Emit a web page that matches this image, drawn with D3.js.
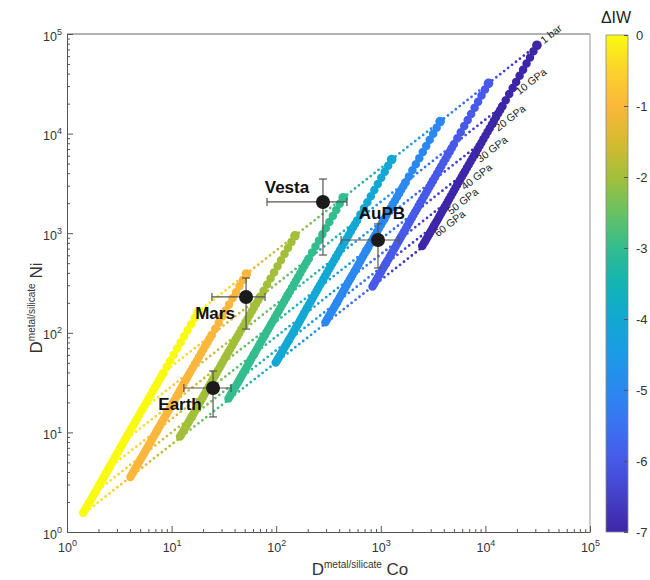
<!DOCTYPE html>
<html lang="en">
<head>
<meta charset="UTF-8" />
<title>Ni vs Co metal/silicate partitioning</title>
<script src="https://d3js.org/d3.v7.min.js"></script>
<style>
  body { margin: 0; background: #fff; }
  svg { display: block; font-family: Arial, "Liberation Sans", sans-serif; }
</style>
</head>
<body>
<div id="chart"></div>
<script>
// isobar pressures (rows of dCo / dNi go from 1 bar to 60 GPa)
const pressures = ["1 bar", "10 GPa", "20 GPa", "30 GPa", "40 GPa", "50 GPa", "60 GPa"];
const pressureGPa = [0, 10, 20, 30, 40, 50, 60];
const deltaIW = [0, -1, -2, -3, -4, -5, -6, -7];

// D(metal/silicate) Co, one array per ΔIW
const dCo = [
  [17.9, 8.32, 5.25, 3.53, 2.51, 1.85, 1.39],
  [51.9, 24.2, 15.2, 10.3, 7.29, 5.37, 4.04],
  [151, 70.2, 44.3, 29.8, 21.2, 15.6, 11.7],
  [437, 204, 129, 86.5, 61.5, 45.3, 34.0],
  [1270, 592, 373, 251, 179, 132, 98.9],
  [3690, 1720, 1080, 729, 518, 382, 287],
  [10700, 4990, 3150, 2120, 1510, 1110, 834],
  [31100, 14500, 9150, 6150, 4370, 3220, 2420]
];
// D(metal/silicate) Ni, one array per ΔIW
const dNi = [
  [162, 39.5, 17.0, 8.22, 4.37, 2.48, 1.48],
  [390, 95.3, 41.0, 19.8, 10.5, 5.98, 3.57],
  [942, 230, 99.0, 47.9, 25.4, 14.4, 8.62],
  [2270, 555, 239, 115, 61.4, 34.8, 20.8],
  [5490, 1340, 576, 279, 148, 84.1, 50.2],
  [13200, 3230, 1390, 673, 358, 203, 121],
  [31900, 7800, 3360, 1620, 863, 490, 292],
  [77100, 18800, 8100, 3920, 2080, 1180, 705]
];

// planetary bodies
const bodies = ["Earth", "Mars", "Vesta", "AuPB"];
const bodyCo = [24.9, 51.5, 280, 940];
const bodyCoLo = [13.1, 24.3, 81.7, 417];
const bodyCoHi = [37.0, 78.2, 475, 1490];
const bodyNi = [27.9, 229, 2060, 855];
const bodyNiLo = [14.3, 109, 604, 447];
const bodyNiHi = [41.3, 355, 3500, 1240];

const decades = [1, 10, 100, 1000, 10000, 100000];
const iwTicks = [0, -1, -2, -3, -4, -5, -6, -7];

// parula-like colour map
const cmapIW = [0, -0.5, -1, -1.5, -2, -2.5, -3, -3.5, -4, -4.5, -5, -5.5, -6, -6.5, -7];
const cmapHex = ["#f9fb0e", "#fcd22c", "#fbb73b", "#d6bb30", "#a3bf3a", "#68c263", "#33bc8e", "#13b4b4",
  "#12a8d3", "#1c9ae6", "#2b88f0", "#3a72f2", "#4659e8", "#4540c8", "#3e26a8"];

const width = 650, height = 580;
const svg = d3.select("#chart").append("svg").attr("width", width).attr("height", height);
const defs = svg.append("defs");

const x = d3.scaleLog().domain([1, 1e5]).range([67, 590]);
const y = d3.scaleLog().domain([1, 1e5]).range([532, 34]);
const color = d3.scaleLinear().domain(cmapIW).range(cmapHex);

const isPow = v => Math.abs(Math.log10(v) - Math.round(Math.log10(v))) < 1e-9;
const minorX = x.ticks().filter(v => !isPow(v));
const minorY = y.ticks().filter(v => !isPow(v));

// box
svg.append("line").attr("x1", 67).attr("x2", 590).attr("y1", 34).attr("y2", 34).attr("stroke", "#666");
svg.append("line").attr("x1", 590).attr("x2", 590).attr("y1", 34).attr("y2", 532).attr("stroke", "#999");

// axes
const gx = svg.append("g").attr("transform", "translate(0,532)")
  .call(d3.axisBottom(x).tickValues(decades).tickSizeInner(-6).tickSizeOuter(0).tickFormat(""));
svg.append("g").attr("transform", "translate(0,532)")
  .call(d3.axisBottom(x).tickValues(minorX).tickSizeInner(-3).tickSizeOuter(0).tickFormat(""))
  .call(g => g.select(".domain").remove());
const gy = svg.append("g").attr("transform", "translate(67,0)")
  .call(d3.axisLeft(y).tickValues(decades).tickSizeInner(-6).tickSizeOuter(0).tickFormat(""));
svg.append("g").attr("transform", "translate(67,0)")
  .call(d3.axisLeft(y).tickValues(minorY).tickSizeInner(-3).tickSizeOuter(0).tickFormat(""))
  .call(g => g.select(".domain").remove());
svg.selectAll(".domain, .tick line").attr("stroke", "#555");

gx.selectAll(".tick").each(function (d) {
  const t = d3.select(this).append("text").attr("y", 20).attr("text-anchor", "middle")
    .attr("fill", "#333").attr("font-size", 12.5);
  t.append("tspan").text("10");
  t.append("tspan").attr("dy", -6).attr("font-size", 9).text(Math.round(Math.log10(d)));
});
gy.selectAll(".tick").each(function (d) {
  const t = d3.select(this).append("text").attr("x", -5).attr("y", 6).attr("text-anchor", "end")
    .attr("fill", "#333").attr("font-size", 12.5);
  t.append("tspan").text("10");
  t.append("tspan").attr("dy", -6).attr("font-size", 9).text(Math.round(Math.log10(d)));
});

// axis titles
const xt = svg.append("text").attr("x", 360).attr("y", 575).attr("text-anchor", "middle").attr("fill", "#333");
xt.append("tspan").attr("font-size", 17).text("D");
xt.append("tspan").attr("font-size", 10).attr("dy", -7).text("metal/silicate");
xt.append("tspan").attr("font-size", 17).attr("dy", 7).text(" Co");
const yt = svg.append("text").attr("transform", "translate(42,308) rotate(-90)")
  .attr("text-anchor", "middle").attr("fill", "#333");
yt.append("tspan").attr("font-size", 17).text("D");
yt.append("tspan").attr("font-size", 10).attr("dy", -7).text("metal/silicate");
yt.append("tspan").attr("font-size", 17).attr("dy", 7).text(" Ni");

const pt = (k, i) => [x(dCo[k][i]), y(dNi[k][i])];

// dotted isobars across ΔIW
const iso = svg.append("g");
pressureGPa.forEach((p, i) => {
  for (let k = 0; k < deltaIW.length - 1; k++) {
    const a = pt(k, i), b = pt(k + 1, i);
    const id = `iso-${i}-${k}`;
    const grad = defs.append("linearGradient").attr("id", id).attr("gradientUnits", "userSpaceOnUse")
      .attr("x1", a[0]).attr("y1", a[1]).attr("x2", b[0]).attr("y2", b[1]);
    grad.append("stop").attr("offset", 0).attr("stop-color", color(deltaIW[k]));
    grad.append("stop").attr("offset", 1).attr("stop-color", color(deltaIW[k + 1]));
    iso.append("line").attr("x1", a[0]).attr("y1", a[1]).attr("x2", b[0]).attr("y2", b[1])
      .attr("stroke", `url(#${id})`).attr("stroke-width", 2.8).attr("stroke-linecap", "round")
      .attr("stroke-dasharray", "0 5");
  }
});

// thick ΔIW lines (one bead per GPa)
const lines = svg.append("g");
deltaIW.forEach((iw, k) => {
  for (let i = 0; i < pressureGPa.length - 1; i++) {
    const a = pt(k, i), b = pt(k, i + 1);
    const len = Math.hypot(b[0] - a[0], b[1] - a[1]);
    const step = len / (pressureGPa[i + 1] - pressureGPa[i]);
    lines.append("line").attr("x1", a[0]).attr("y1", a[1]).attr("x2", b[0]).attr("y2", b[1])
      .attr("stroke", color(iw)).attr("stroke-width", 8.5).attr("stroke-linecap", "round")
      .attr("stroke-dasharray", `0 ${step}`);
  }
  lines.append("circle").attr("cx", pt(k, 0)[0]).attr("cy", pt(k, 0)[1]).attr("r", 4.8).attr("fill", color(iw));
});

// isobar labels along the ΔIW = -7 line
const last = deltaIW.length - 1;
pressures.forEach((lab, i) => {
  const [px, py] = pt(last, i);
  const off = i === 0 ? [7, -1] : [17, -11];
  svg.append("text").attr("transform", `translate(${px + off[0]},${py + off[1]}) rotate(-38)`)
    .attr("font-size", 10.5).attr("fill", "#222").text(lab);
});

// bodies with error bars
const labelOff = [[-33, 22], [-31, 22], [-36, -9], [4, -21]];
const eb = svg.append("g").attr("stroke", "#555").attr("stroke-width", 1.2);
bodies.forEach((name, i) => {
  const cx = x(bodyCo[i]), cy = y(bodyNi[i]);
  const x0 = x(bodyCoLo[i]), x1 = x(bodyCoHi[i]), y0 = y(bodyNiLo[i]), y1 = y(bodyNiHi[i]);
  eb.append("line").attr("x1", x0).attr("x2", x1).attr("y1", cy).attr("y2", cy);
  eb.append("line").attr("x1", x0).attr("x2", x0).attr("y1", cy - 4).attr("y2", cy + 4);
  eb.append("line").attr("x1", x1).attr("x2", x1).attr("y1", cy - 4).attr("y2", cy + 4);
  eb.append("line").attr("x1", cx).attr("x2", cx).attr("y1", y0).attr("y2", y1);
  eb.append("line").attr("x1", cx - 4).attr("x2", cx + 4).attr("y1", y0).attr("y2", y0);
  eb.append("line").attr("x1", cx - 4).attr("x2", cx + 4).attr("y1", y1).attr("y2", y1);
  svg.append("circle").attr("cx", cx).attr("cy", cy).attr("r", 7).attr("fill", "#1b1b1b");
  svg.append("text").attr("x", cx + labelOff[i][0]).attr("y", cy + labelOff[i][1])
    .attr("text-anchor", "middle").attr("font-size", 17).attr("font-weight", "bold")
    .attr("fill", "#111").text(name);
});

// colour bar
const cb = d3.scaleLinear().domain([0, -7]).range([35, 532]);
const cbGrad = defs.append("linearGradient").attr("id", "cbar").attr("x1", 0).attr("y1", 0).attr("x2", 0).attr("y2", 1);
cmapIW.forEach((v, i) => {
  cbGrad.append("stop").attr("offset", (cb(v) - 35) / (532 - 35)).attr("stop-color", cmapHex[i]);
});
svg.append("rect").attr("x", 606).attr("y", 35).attr("width", 22).attr("height", 497)
  .attr("fill", "url(#cbar)").attr("stroke", "#888").attr("stroke-width", 0.8);
const gc = svg.append("g").attr("transform", "translate(628,0)")
  .call(d3.axisRight(cb).tickValues(iwTicks).tickSizeInner(-4).tickSizeOuter(0).tickPadding(8)
    .tickFormat(d => d === 0 ? "0" : String(d)));
gc.select(".domain").remove();
gc.selectAll(".tick line").attr("stroke", "#555");
gc.selectAll(".tick text").attr("font-size", 13).attr("fill", "#333").attr("font-family", "Arial, 'Liberation Sans', sans-serif");
svg.append("text").attr("x", 616).attr("y", 23).attr("text-anchor", "middle")
  .attr("font-size", 16).attr("fill", "#222").text("ΔIW");
</script>
</body>
</html>
